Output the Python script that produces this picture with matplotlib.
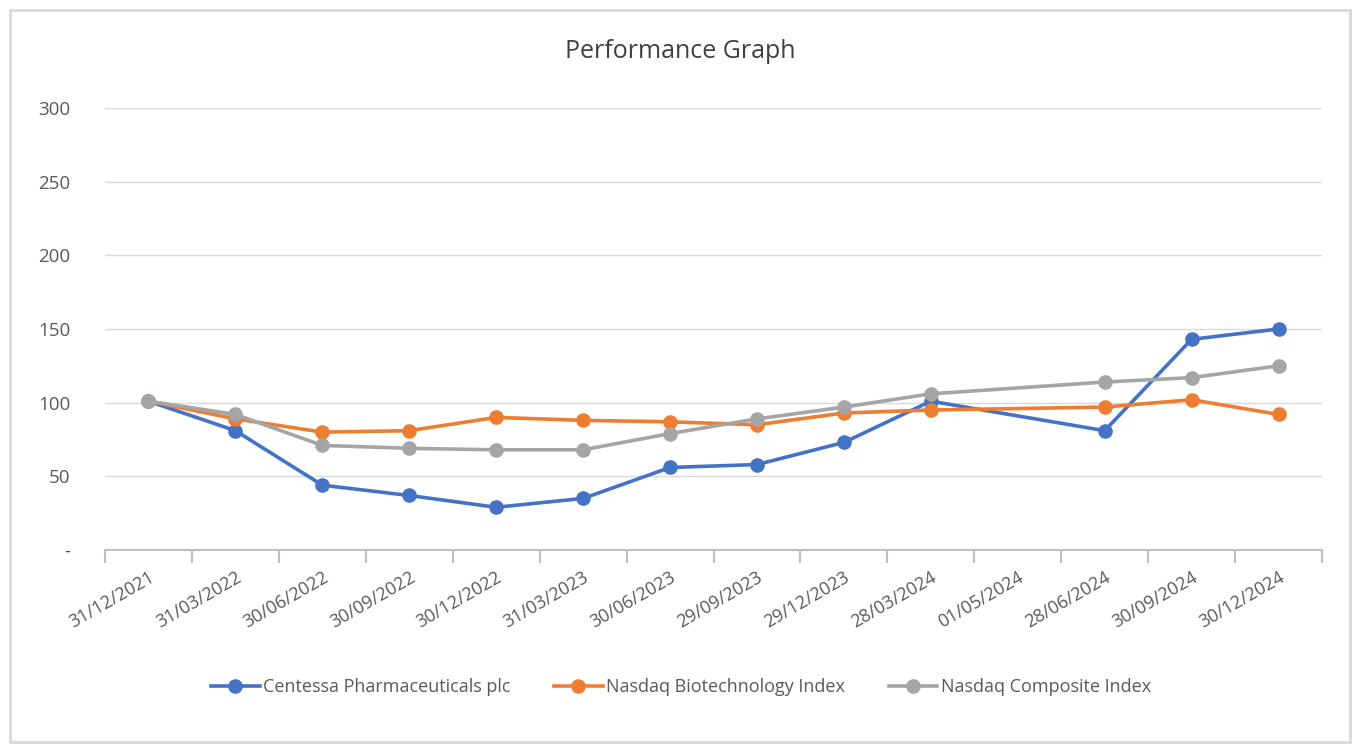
import numpy as np
import matplotlib.pyplot as plt
from matplotlib.patches import Rectangle

plt.rcParams['font.family'] = ['Open Sans', 'DejaVu Sans']

dates = ['31/12/2021', '31/03/2022', '30/06/2022', '30/09/2022', '30/12/2022',
         '31/03/2023', '30/06/2023', '29/09/2023', '29/12/2023', '28/03/2024',
         '01/05/2024', '28/06/2024', '30/09/2024', '30/12/2024']
centessa = [101, 81, 44, 37, 29, 35, 56, 58, 73, 101, np.nan, 81, 143, 150]
biotech = [101, 89, 80, 81, 90, 88, 87, 85, 93, 95, np.nan, 97, 102, 92]
composite = [101, 92, 71, 69, 68, 68, 79, 89, 97, 106, np.nan, 114, 117, 125]

series = [('Centessa Pharmaceuticals plc', centessa, '#4472C4'),
          ('Nasdaq Biotechnology Index', biotech, '#ED7D31'),
          ('Nasdaq Composite Index', composite, '#A5A5A5')]

txt = '#595959'
fig = plt.figure(figsize=(13.61, 7.51), dpi=100)
ax = fig.add_axes([105/1361, 1-550/751, (1322-105)/1361, (550-108)/751])

x = np.arange(len(dates))
for name, vals, col in series:
    y = np.array(vals, dtype=float)
    ok = ~np.isnan(y)
    # skip the empty 01/05/2024 slot, line joins straight across it
    ax.plot(x[ok], y[ok], color=col, lw=2.6, marker='o', ms=9.5, label=name, zorder=3)

ax.set_xlim(-0.5, len(dates) - 0.5)
ax.set_ylim(0, 300)
ax.set_yticks(range(0, 301, 50))
ax.set_yticklabels(['-'] + [str(v) for v in range(50, 301, 50)])
ax.grid(axis='y', color='#D9D9D9', lw=1)
ax.set_axisbelow(True)
for s in ['left', 'right', 'top']:
    ax.spines[s].set_visible(False)
ax.spines['bottom'].set_color('#BFBFBF')
ax.spines['bottom'].set_linewidth(1.5)
ax.tick_params(axis='y', length=0, pad=25, labelsize=13.5, labelcolor=txt)

ax.set_xticks(x)
ax.set_xticklabels(dates, rotation=30, ha='right', rotation_mode='anchor')
ax.set_xticks(np.arange(-0.5, len(dates)), minor=True)
ax.tick_params(axis='x', which='major', length=0, pad=13, labelsize=13, labelcolor=txt)
ax.tick_params(axis='x', which='minor', length=9, width=1.5, color='#BFBFBF')

fig.text(0.5, 1-52/751, 'Performance Graph', ha='center', va='center', fontsize=18, color='#404040')

fig.legend(loc='center', bbox_to_anchor=(681/1361, 1-687/751), ncol=3, frameon=False,
           fontsize=13, labelcolor=txt, handlelength=2.7, handletextpad=0.2, columnspacing=2.4)

fig.patches.append(Rectangle((10/1361, 9/751), 1340/1361, 732/751, transform=fig.transFigure,
                             fill=False, ec='#D9D9D9', lw=2))

fig.savefig('out.png', dpi=100, facecolor='white')
